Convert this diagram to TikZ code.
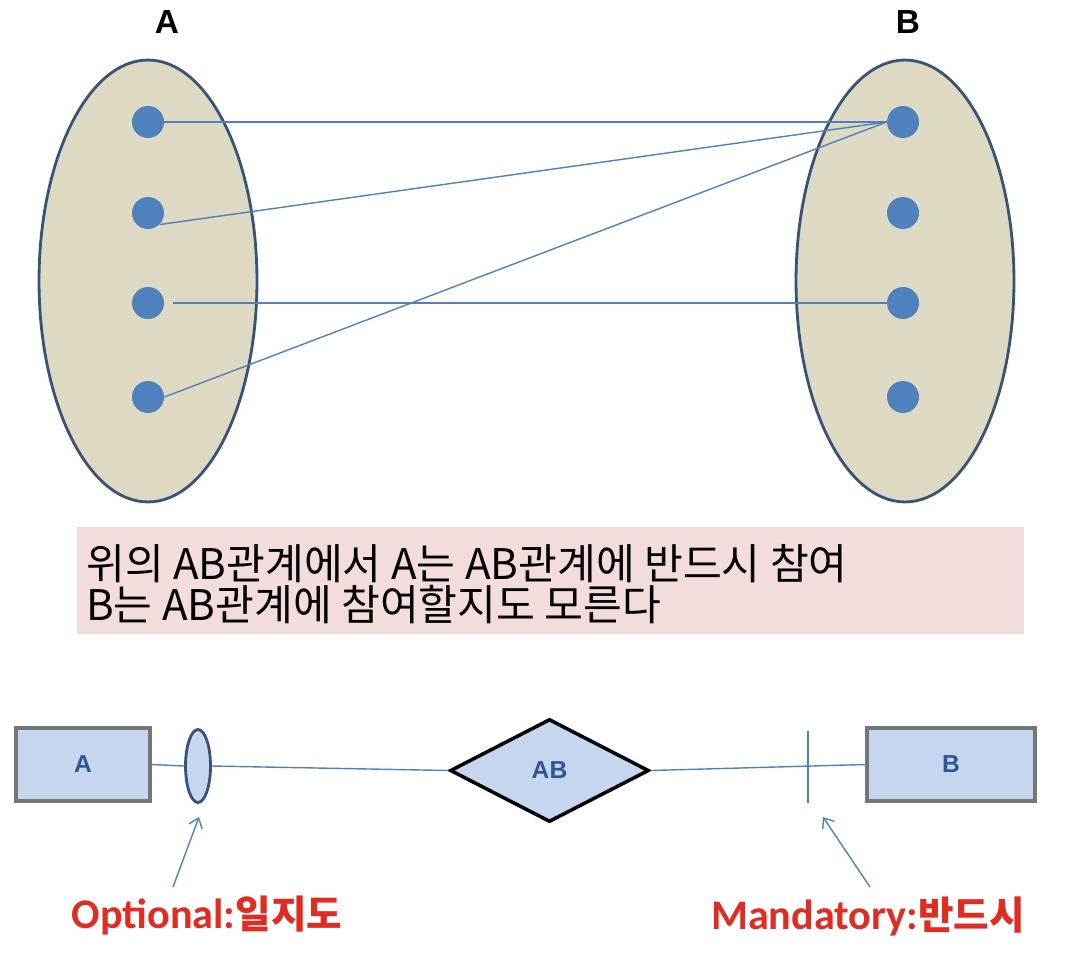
\documentclass[tikz,border=0pt]{standalone}
\usepackage{fontspec}
\setmainfont{Noto Sans CJK KR}
\newfontfamily\latinbold{Liberation Sans}
\newfontfamily\calibri{Carlito}
\newfontfamily\korbold{Noto Sans CJK KR Bold}
\usetikzlibrary{shapes.geometric, arrows.meta, positioning}
\definecolor{setfill}{RGB}{221, 217, 195}
\definecolor{setline}{RGB}{56, 83, 120}
\definecolor{dotblue}{RGB}{79, 129, 189}
\definecolor{notepink}{RGB}{242, 221, 220}
\definecolor{entfill}{RGB}{198, 214, 238}
\definecolor{entline}{RGB}{118, 118, 118}
\definecolor{enttext}{RGB}{47, 85, 151}
\definecolor{labred}{RGB}{224, 45, 35}

\tikzset{
  setshape/.style={ellipse, draw=setline, line width=1.6pt, fill=setfill,
    minimum width=4.36cm, minimum height=8.84cm, inner sep=0pt},
  elem/.style={circle, fill=dotblue, minimum size=0.64cm, inner sep=0pt},
  mapline/.style={dotblue, line width=0.8pt},
  entity/.style={rectangle, draw=entline, line width=2pt, fill=entfill,
    minimum width=2.68cm, minimum height=1.46cm, font=\latinbold\bfseries\fontsize{14}{16}\selectfont, text=enttext},
  relation/.style={diamond, draw=black, line width=2pt, fill=entfill, aspect=1.93,
    minimum width=3.98cm, minimum height=2.06cm, inner sep=0pt, font=\latinbold\bfseries\fontsize{14}{16}\selectfont, text=enttext},
  optmark/.style={ellipse, draw=setline, line width=1.6pt, fill=entfill,
    minimum width=0.5cm, minimum height=1.46cm, inner sep=0pt},
  pointer/.style={dotblue, line width=0.8pt, -{Straight Barb[length=5pt, width=8pt]}},
  redlabel/.style={text=labred, font=\calibri\bfseries\fontsize{24}{26}\selectfont}
}

\begin{document}
\begin{tikzpicture}[x=0.02cm, y=-0.02cm]
\useasboundingbox (0,0) rectangle (1078,964);

% the two sets
\node[setshape] (setA) at (148,281) {};
\node[setshape] (setB) at (905,281) {};
\node[font=\latinbold\bfseries\fontsize{19}{22}\selectfont] (nameA) at (167,22) {A};
\node[font=\latinbold\bfseries\fontsize{19}{22}\selectfont] (nameB) at (908,22) {B};

% elements of each set
\foreach \i/\y in {1/122, 2/213, 3/303, 4/397} {
    \node[elem] (a\i) at (148,\y) {};
    \node[elem] (b\i) at (903,\y) {};
}

% AB pairs
\draw[mapline] (a1.east) -- (b1.west);
\draw[mapline] (a2.south east) -- (b1.west);
\draw[mapline] ([xshift=0.5cm]a3.center) -- (b3.west);
\draw[mapline] (a4.east) -- (b1.west);

% note
\node[rectangle, fill=notepink, minimum width=18.94cm, minimum height=2.14cm] (note) at (550.5,580.5) {};
\node[anchor=west, align=left, font=\fontsize{24}{23}\selectfont] (notetext) at (80,584)
  {위의 AB관계에서 A는 AB관계에 반드시 참여\\B는 AB관계에 참여할지도 모른다};

% ER notation
\node[entity] (entA) at (83,764.5) {A};
\node[entity, minimum width=3.36cm] (entB) at (951,764.5) {B};
\node[relation] (rel) at (549.5,770.5) {AB};
\node[optmark] (opt) at (198,766) {};
\coordinate (tick) at (808,767);

\draw[mapline] (entA.east) -- (opt.west);
\draw[mapline] (opt.east) -- (rel.west);
\draw[mapline] (rel.east) -- (entB.west);
\draw[mapline] ([yshift=0.72cm]tick) -- ([yshift=-0.72cm]tick);

% pointers
\coordinate (optfrom) at (173,887);
\coordinate (optto) at (199,817);
\coordinate (manfrom) at (870,887);
\coordinate (manto) at (823,817);
\draw[pointer] (optfrom) -- (optto);
\draw[pointer] (manfrom) -- (manto);
\node[redlabel] (optlabel) at (207,916) {Optional:{\korbold\fontsize{22}{26}\selectfont 일지도}};
\node[redlabel] (manlabel) at (868,916) {Mandatory:{\korbold\fontsize{22}{26}\selectfont 반드시}};
\end{tikzpicture}
\end{document}
